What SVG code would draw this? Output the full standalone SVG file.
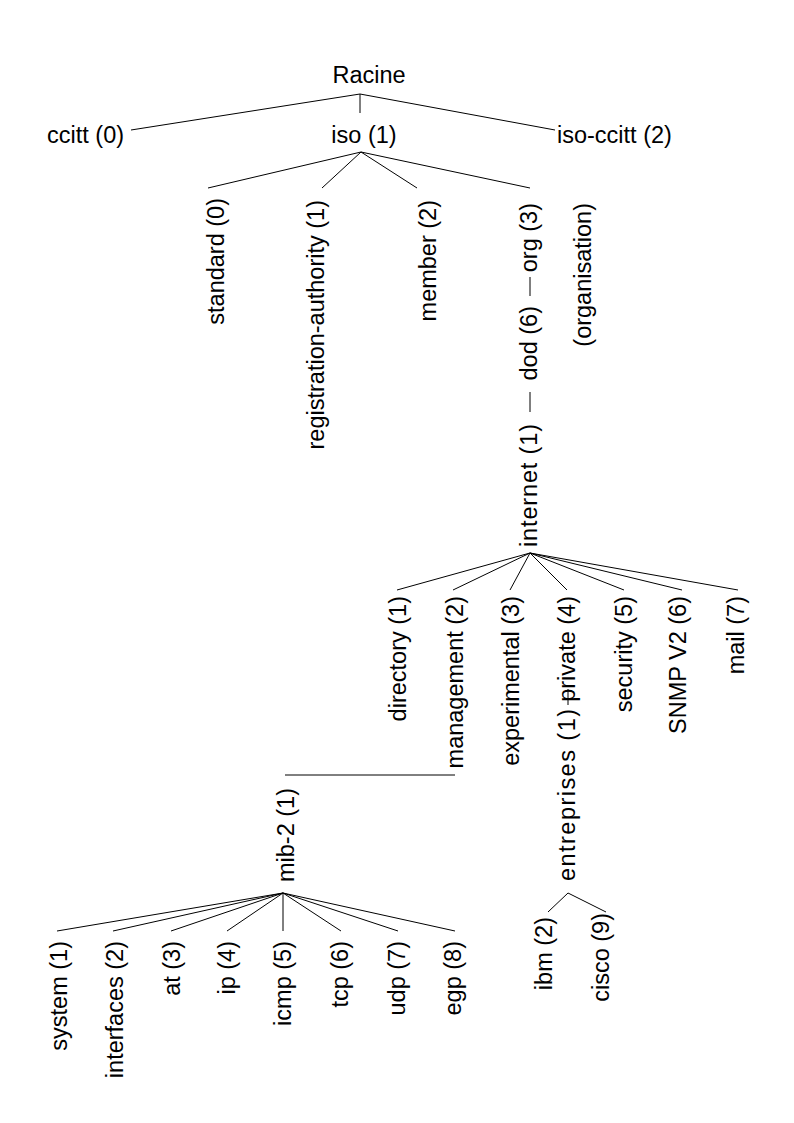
<svg xmlns="http://www.w3.org/2000/svg" width="794" height="1123" viewBox="0 0 794 1123">
<style>
text{font-family:"Liberation Sans",Arial,sans-serif;font-size:23.5px;fill:#000}
.v{text-anchor:end}
.c line{stroke:#000;stroke-width:1}
</style>
<rect width="794" height="1123" fill="#fff"/>
<g class="c" id="connectors">
<line x1="360" y1="94" x2="131" y2="130"/>
<line x1="360" y1="94" x2="360" y2="113"/>
<line x1="360" y1="94" x2="555" y2="130"/>
<line x1="361" y1="152" x2="208" y2="188"/>
<line x1="361" y1="152" x2="322" y2="188"/>
<line x1="361" y1="152" x2="417" y2="188"/>
<line x1="361" y1="152" x2="530" y2="188"/>
<line x1="530" y1="277" x2="530" y2="296"/>
<line x1="530" y1="392" x2="530" y2="412"/>
<line x1="530" y1="553" x2="397" y2="590"/>
<line x1="530" y1="553" x2="453" y2="590"/>
<line x1="530" y1="553" x2="510" y2="590"/>
<line x1="530" y1="553" x2="567" y2="590"/>
<line x1="530" y1="553" x2="624" y2="590"/>
<line x1="530" y1="553" x2="682" y2="590"/>
<line x1="530" y1="553" x2="738" y2="590"/>
<line x1="285" y1="775" x2="455" y2="775"/>
<line x1="568" y1="689" x2="568" y2="705"/>
<line x1="283" y1="893" x2="57" y2="931"/>
<line x1="283" y1="893" x2="113" y2="931"/>
<line x1="283" y1="893" x2="171" y2="931"/>
<line x1="283" y1="893" x2="227" y2="931"/>
<line x1="283" y1="893" x2="283" y2="931"/>
<line x1="283" y1="893" x2="341" y2="931"/>
<line x1="283" y1="893" x2="398" y2="931"/>
<line x1="283" y1="893" x2="455" y2="931"/>
<line x1="568" y1="893" x2="548" y2="912"/>
<line x1="568" y1="893" x2="606" y2="912"/>
</g>
<g id="racine"><text x="369" y="83" text-anchor="middle">Racine</text></g>
<g id="ccitt"><text x="47" y="143">ccitt (0)</text></g>
<g id="iso"><text x="364" y="143" text-anchor="middle">iso (1)</text></g>
<g id="iso-ccitt"><text x="557" y="143">iso-ccitt (2)</text></g>
<g id="standard"><text class="v" transform="translate(224,198) rotate(-90)">standard (0)</text></g>
<g id="registration"><text class="v" transform="translate(324,200) rotate(-90)">registration-authority (1)</text></g>
<g id="member"><text class="v" transform="translate(436,200) rotate(-90)">member (2)</text></g>
<g id="org"><text class="v" transform="translate(537,203) rotate(-90)">org (3)</text></g>
<g id="organisation"><text class="v" transform="translate(591,203) rotate(-90)">(organisation)</text></g>
<g id="dod"><text class="v" transform="translate(537,306) rotate(-90)">dod (6)</text></g>
<g id="internet"><text class="v" transform="translate(537,424) rotate(-90)" textLength="123" lengthAdjust="spacing">internet (1)</text></g>
<g id="directory"><text class="v" transform="translate(406,596) rotate(-90)">directory (1)</text></g>
<g id="management"><text class="v" transform="translate(463,596) rotate(-90)">management (2)</text></g>
<g id="experimental"><text class="v" transform="translate(519,596) rotate(-90)">experimental (3)</text></g>
<g id="private"><text class="v" transform="translate(575,596) rotate(-90)">private (4)</text></g>
<g id="entreprises"><text class="v" transform="translate(575,709) rotate(-90)" textLength="172" lengthAdjust="spacing">entreprises (1)</text></g>
<g id="security"><text class="v" transform="translate(632,596) rotate(-90)">security (5)</text></g>
<g id="snmpv2"><text class="v" transform="translate(686,596) rotate(-90)">SNMP V2 (6)</text></g>
<g id="mail"><text class="v" transform="translate(744,596) rotate(-90)">mail (7)</text></g>
<g id="mib2"><text class="v" transform="translate(294,788) rotate(-90)">mib-2 (1)</text></g>
<g id="system"><text class="v" transform="translate(67,941) rotate(-90)">system (1)</text></g>
<g id="interfaces"><text class="v" transform="translate(123,941) rotate(-90)">interfaces (2)</text></g>
<g id="at"><text class="v" transform="translate(180,941) rotate(-90)">at (3)</text></g>
<g id="ip"><text class="v" transform="translate(235,941) rotate(-90)">ip (4)</text></g>
<g id="icmp"><text class="v" transform="translate(291,941) rotate(-90)">icmp (5)</text></g>
<g id="tcp"><text class="v" transform="translate(348,941) rotate(-90)">tcp (6)</text></g>
<g id="udp"><text class="v" transform="translate(405,941) rotate(-90)">udp (7)</text></g>
<g id="egp"><text class="v" transform="translate(461,941) rotate(-90)">egp (8)</text></g>
<g id="ibm"><text class="v" transform="translate(552,917) rotate(-90)">ibm (2)</text></g>
<g id="cisco"><text class="v" transform="translate(609,913) rotate(-90)">cisco (9)</text></g>
</svg>
